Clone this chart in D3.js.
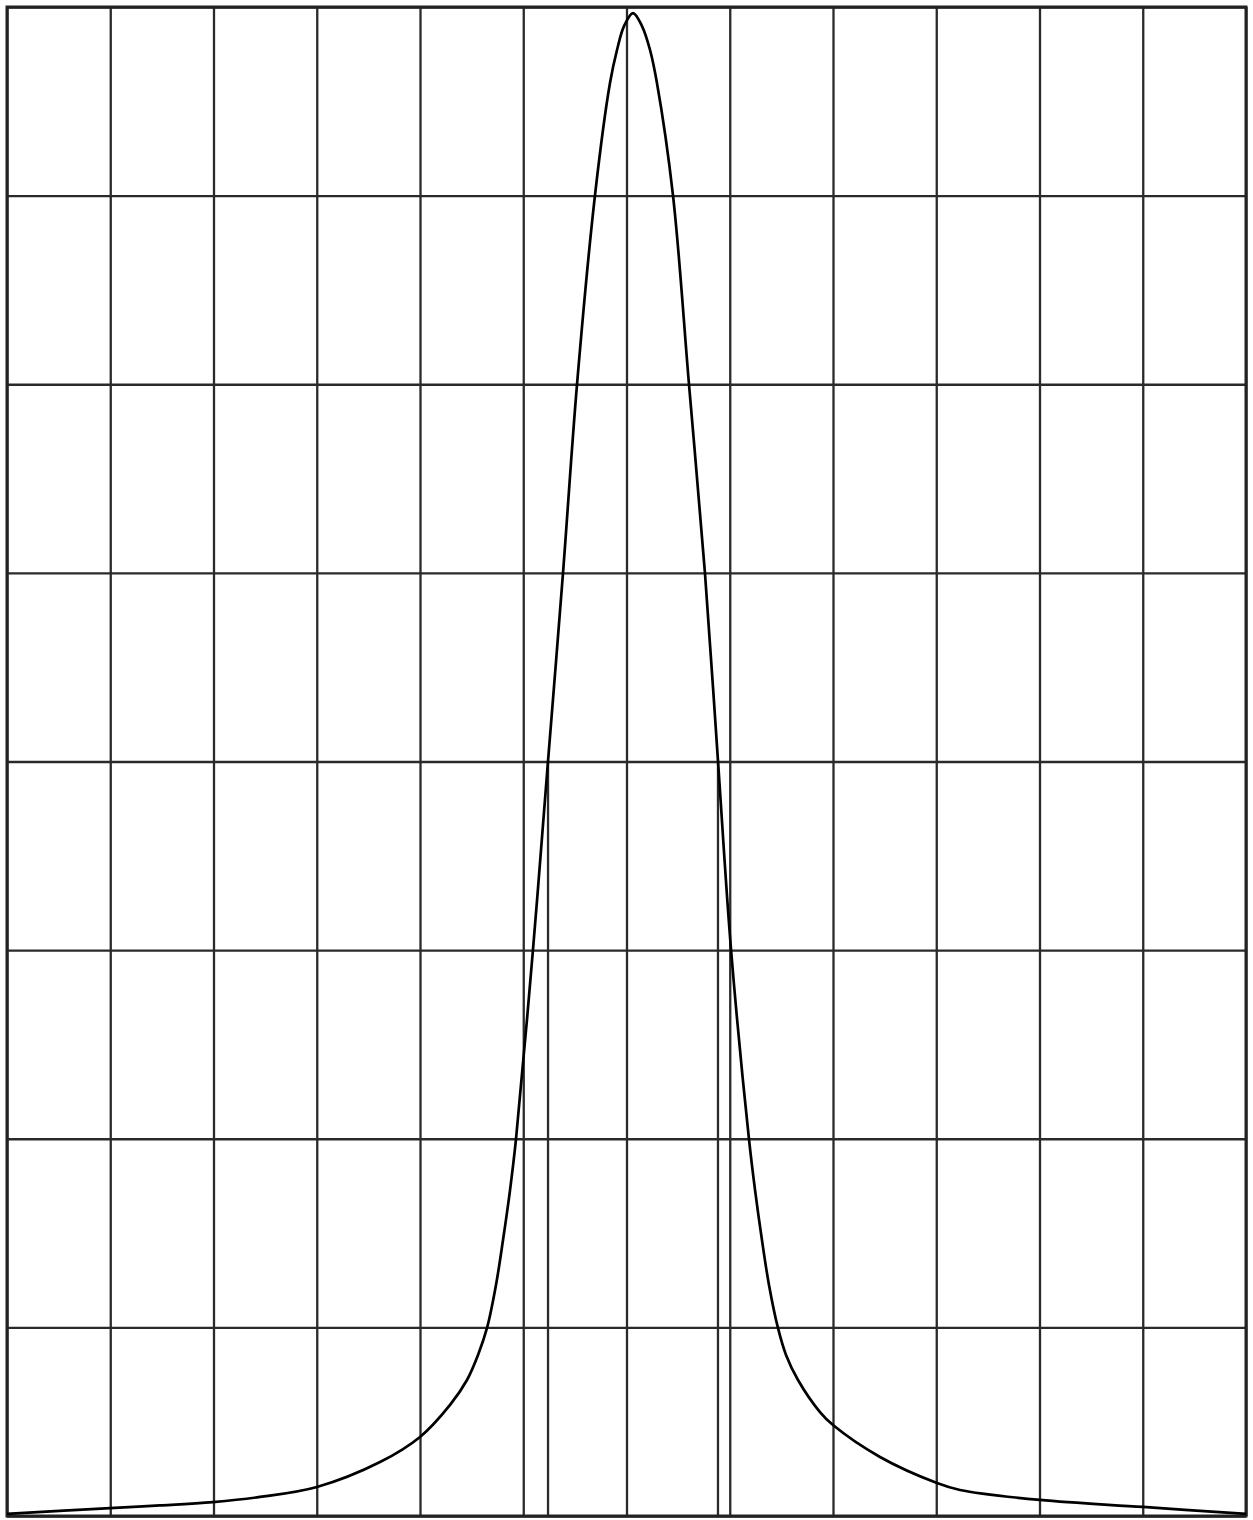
<!DOCTYPE html>
<html>
<head>
<meta charset="utf-8">
<script src="https://cdn.jsdelivr.net/npm/d3@7"></script>
<style>
  html, body { margin: 0; padding: 0; background: #fff; }
  svg { display: block; }
  .grid line { stroke: #2a2a2a; stroke-width: 2.3; }
  .grid path { display: none; }
</style>
</head>
<body>
<svg width="1253" height="1520"></svg>
<script>
// grid divisions
var xTicks = [0, 1, 2, 3, 4, 5, 6, 7, 8, 9, 10, 11, 12];
var yTicks = [0, 1, 2, 3, 4, 5, 6, 7, 8];

// peak profile (x in grid columns, y in grid rows)
var peakX = [0, 0.998, 1.482, 1.995, 2.450, 3.002, 3.613, 4.0, 4.291, 4.455, 4.562, 4.649, 4.736, 4.804, 4.872, 4.930,
             5.094, 5.240, 5.385, 5.521, 5.695, 5.840, 5.908, 5.976, 6.063,
             6.150, 6.228, 6.295, 6.450, 6.605, 6.760, 6.886, 7.012,
             7.186, 7.245, 7.312, 7.380, 7.467, 7.545, 7.661, 7.874, 8.0, 8.455, 9.007, 9.230, 10.005, 11.002, 12];
var peakY = [0.011, 0.042, 0.056, 0.074, 0.101, 0.154, 0.286, 0.419, 0.589, 0.721, 0.854, 0.997, 1.225, 1.463, 1.728, 1.999,
             3.001, 4.003, 4.999, 6.001, 7.003, 7.597, 7.772, 7.899, 7.968,
             7.899, 7.772, 7.597, 7.003, 6.001, 4.999, 4.003, 3.006,
             1.999, 1.728, 1.463, 1.225, 0.997, 0.854, 0.721, 0.551, 0.482, 0.313, 0.175, 0.138, 0.085, 0.048, 0.011];

// half-maximum markers
var halfMax = 4;
var fwhmX = [5.240, 6.886];

var svg = d3.select("svg"),
    margin = {left: 7, top: 7, right: 7, bottom: 4},
    width = +svg.attr("width") - margin.left - margin.right,
    height = +svg.attr("height") - margin.top - margin.bottom;

var x = d3.scaleLinear().domain([0, 12]).range([0, width]);
var y = d3.scaleLinear().domain([0, 8]).range([height, 0]);

var g = svg.append("g").attr("transform", "translate(" + margin.left + "," + margin.top + ")");

g.append("g")
    .attr("class", "grid")
    .attr("transform", "translate(0," + height + ")")
    .call(d3.axisBottom(x).tickValues(xTicks).tickSize(height).tickFormat(""))
    .selectAll(".tick line").attr("y2", -height);

g.append("g")
    .attr("class", "grid")
    .call(d3.axisLeft(y).tickValues(yTicks).tickSize(-width).tickFormat(""));

g.selectAll(".fwhm")
    .data(fwhmX)
    .enter().append("line")
    .attr("class", "fwhm")
    .attr("x1", function(d) { return x(d); })
    .attr("x2", function(d) { return x(d); })
    .attr("y1", y(halfMax))
    .attr("y2", y(0))
    .attr("stroke", "#2a2a2a")
    .attr("stroke-width", 2.3);

g.append("rect")
    .attr("width", width)
    .attr("height", height)
    .attr("fill", "none")
    .attr("stroke", "#222")
    .attr("stroke-width", 3);

var pts = peakX.map(function(d, i) { return [d, peakY[i]]; });

var line = d3.line()
    .x(function(d) { return x(d[0]); })
    .y(function(d) { return y(d[1]); })
    .curve(d3.curveCatmullRom.alpha(0.5));

g.append("path")
    .datum(pts)
    .attr("fill", "none")
    .attr("stroke", "#000")
    .attr("stroke-width", 2.7)
    .attr("d", line);
</script>
</body>
</html>
